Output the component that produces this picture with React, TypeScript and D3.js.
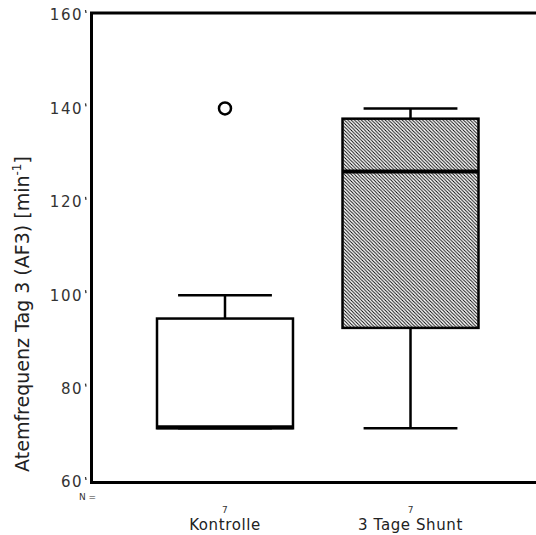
import React, { useRef, useEffect } from "react";
import { select, scaleLinear, scaleBand } from "d3";

const groups = ["Kontrolle", "3 Tage Shunt"];
const counts = [7, 7];
const q1 = [71.5, 93];
const medians = [71.5, 126.5];
const q3 = [95, 137.8];
const whiskLow = [71.5, 71.5];
const whiskHigh = [100, 140];
const outliers = [[140], []];
const hatched = [false, true];
const yTicks = [60, 80, 100, 120, 140, 160];

export default function App() {
  const svgRef = useRef<SVGSVGElement>(null);

  useEffect(() => {
    const svg = select(svgRef.current);
    svg.selectAll("*").remove();

    const y = scaleLinear().domain([60, 160]).range([482, 15]);
    const x = scaleBand().domain(groups).range([157, 478.5]).paddingInner(0.267).paddingOuter(0);

    const defs = svg.append("defs");
    const pat = defs.append("pattern")
      .attr("id", "hatch")
      .attr("patternUnits", "userSpaceOnUse")
      .attr("width", 3.4)
      .attr("height", 3.4);
    pat.append("rect").attr("width", 3.4).attr("height", 3.4).attr("fill", "#fff");
    pat.append("path")
      .attr("d", "M0,0 L3.4,3.4 M-1,2.4 L1,4.4 M2.4,-1 L4.4,1")
      .attr("stroke", "#000")
      .attr("stroke-width", 0.9);

    // frame
    svg.append("path")
      .attr("d", `M560,13 L91.5,13 L91.5,482.5 L560,482.5`)
      .attr("fill", "none")
      .attr("stroke", "#000")
      .attr("stroke-width", 3);

    // y ticks
    const yt = svg.append("g").attr("font-family", "DejaVu Sans").attr("font-size", 15)
      .attr("letter-spacing", 1.5).attr("fill", "#333");
    yTicks.forEach(t => {
      yt.append("text")
        .attr("x", 83).attr("y", y(t)).attr("dy", "0.36em")
        .attr("text-anchor", "end").text(t);
      yt.append("line")
        .attr("x1", 85.5).attr("x2", 86)
        .attr("y1", y(t) - 5).attr("y2", y(t) - 2)
        .attr("stroke", "#333").attr("stroke-width", 1.3);
    });

    // y label
    const lab = svg.append("text")
      .attr("transform", `translate(29,314) rotate(-90)`)
      .attr("text-anchor", "middle")
      .attr("font-family", "DejaVu Sans")
      .attr("font-size", 19)
      .attr("fill", "#222");
    lab.append("tspan").text("Atemfrequenz Tag 3 (AF3) [min");
    lab.append("tspan").attr("font-size", 12).attr("dy", -8).text("-1");
    lab.append("tspan").attr("dy", 8).text("]");

    // boxes
    groups.forEach((g, i) => {
      const x0 = x(g)!;
      const w = x.bandwidth();
      const cx = x0 + w / 2;
      const capW = w * 0.69;
      const bx = svg.append("g").attr("stroke", "#000").attr("fill", "none");

      bx.append("line").attr("x1", cx).attr("x2", cx).attr("y1", y(q3[i])).attr("y2", y(whiskHigh[i])).attr("stroke-width", 2.5);
      bx.append("line").attr("x1", cx).attr("x2", cx).attr("y1", y(q1[i])).attr("y2", y(whiskLow[i])).attr("stroke-width", 2.5);
      bx.append("line").attr("x1", cx - capW / 2).attr("x2", cx + capW / 2).attr("y1", y(whiskHigh[i])).attr("y2", y(whiskHigh[i])).attr("stroke-width", 2.5);
      bx.append("line").attr("x1", cx - capW / 2).attr("x2", cx + capW / 2).attr("y1", y(whiskLow[i])).attr("y2", y(whiskLow[i])).attr("stroke-width", 2.5);

      bx.append("rect")
        .attr("x", x0).attr("y", y(q3[i]))
        .attr("width", w).attr("height", y(q1[i]) - y(q3[i]))
        .attr("fill", hatched[i] ? "url(#hatch)" : "#fff")
        .attr("stroke-width", 2.5);
      bx.append("line")
        .attr("x1", x0).attr("x2", x0 + w)
        .attr("y1", y(medians[i]) - (medians[i] === q1[i] ? 1 : 0))
        .attr("y2", y(medians[i]) - (medians[i] === q1[i] ? 1 : 0))
        .attr("stroke-width", 4);

      outliers[i].forEach(o => {
        bx.append("circle").attr("cx", cx).attr("cy", y(o)).attr("r", 6).attr("stroke-width", 2.5).attr("fill", "#fff");
      });

      svg.append("text")
        .attr("x", cx).attr("y", 513)
        .attr("text-anchor", "middle")
        .attr("font-family", "DejaVu Sans").attr("font-size", 9).attr("fill", "#333")
        .text(counts[i]);
      svg.append("text")
        .attr("x", cx).attr("y", 530)
        .attr("text-anchor", "middle")
        .attr("font-family", "DejaVu Sans").attr("font-size", 15).attr("letter-spacing", 0.6)
        .attr("fill", "#222")
        .text(g);
    });

    svg.append("text")
      .attr("x", 79).attr("y", 500)
      .attr("font-family", "DejaVu Sans").attr("font-size", 9).attr("fill", "#333")
      .text("N =");
  }, []);

  return (
    <svg ref={svgRef} width={536} height={535}
      style={{ position: "absolute", left: 0, top: 0, background: "#fff" }} />
  );
}
